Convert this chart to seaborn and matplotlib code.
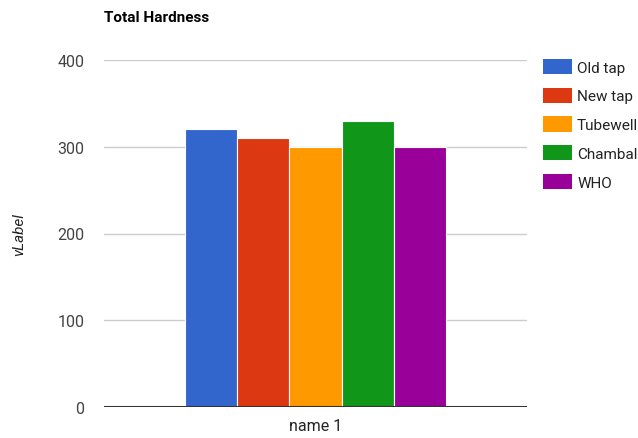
import matplotlib
matplotlib.use("Agg")
import matplotlib.pyplot as plt
import seaborn as sns
import pandas as pd
from matplotlib.patches import Patch

categories = ["name 1"]
series = ["Old tap", "New tap", "Tubewell", "Chambal", "WHO"]
values = [320, 310, 300, 330, 300]
colors = ["#3366cc", "#dc3912", "#ff9900", "#109618", "#990099"]
yticks = [0, 100, 200, 300, 400]

sns.set_style("white")
plt.rcParams["font.family"] = ["Roboto", "DejaVu Sans"]

df = pd.DataFrame({"name": categories * len(series), "series": series, "value": values})

fig = plt.figure(figsize=(6.38, 4.39), dpi=100)
ax = fig.add_axes([104 / 638, 31 / 439, 423 / 638, 347 / 439])

sns.barplot(data=df, x="name", y="value", hue="series", hue_order=series,
            palette=colors, width=0.617, saturation=1, edgecolor="white",
            linewidth=0.8, ax=ax, legend=False)

ax.set_xlim(-0.5, 0.5)
ax.set_ylim(0, 400)
ax.set_yticks(yticks)
ax.set_yticklabels([str(t) for t in yticks], color="#444444", fontsize=11.5)
ax.tick_params(axis="y", length=0, pad=14)
ax.tick_params(axis="x", length=0, pad=8, labelsize=11.5, labelcolor="#222222")
ax.yaxis.grid(True, color="#cccccc", linewidth=1)
ax.set_axisbelow(True)
for s in ax.spines.values():
    s.set_visible(False)
ax.axhline(0, color="#333333", linewidth=1.5, zorder=5)
ax.set_xlabel("")
ax.set_ylabel("vLabel", fontstyle="italic", fontsize=11, color="#222222")
ax.yaxis.set_label_coords(-0.185, 0.5)

fig.text(104 / 638, 1 - 18 / 439, "Total Hardness", fontsize=11, fontweight="bold",
         color="#000000", ha="left", va="center")

handles = [Patch(facecolor=c, edgecolor="none") for c in colors]
fig.legend(handles, series, loc="upper left", bbox_to_anchor=(543 / 638, 1 - 60 / 439),
           frameon=False, fontsize=11, handlelength=1.9, handleheight=1.15,
           handletextpad=0.33, labelspacing=0.85, borderaxespad=0, borderpad=0,
           labelcolor="#222222")

fig.savefig("out.png", dpi=100)
